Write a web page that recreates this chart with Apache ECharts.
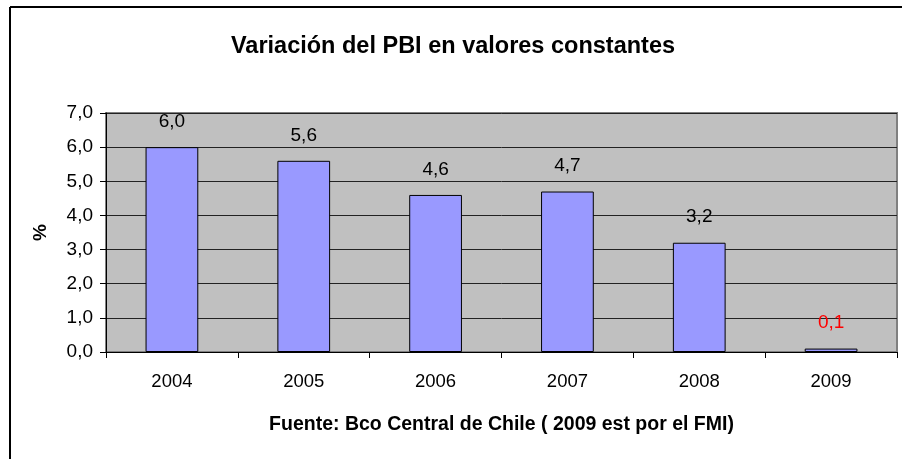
<!DOCTYPE html>
<html>
<head>
<meta charset="utf-8">
<title>Variación del PBI</title>
<script src="https://cdn.jsdelivr.net/npm/echarts@6/dist/echarts.min.js"></script>
<style>
  html, body { margin: 0; padding: 0; background: #fff; }
  #chart { width: 906px; height: 459px; }
</style>
</head>
<body>
<div id="chart"></div>
<script type="text/javascript">
var years = ['2004', '2005', '2006', '2007', '2008', '2009'];
var pbi = [6.0, 5.6, 4.6, 4.7, 3.2, 0.1];
var labelColors = ['#000', '#000', '#000', '#000', '#000', '#FF0000'];

var font = 'Liberation Sans, Arial, sans-serif';
function coma(v) { return v.toFixed(1).replace('.', ','); }

var chart = echarts.init(document.getElementById('chart'));
var option = {
    backgroundColor: '#fff',
    animation: false,
    title: {
        text: 'Variación del PBI en valores constantes',
        left: 'center',
        top: 30,
        textStyle: { fontFamily: font, fontSize: 23.5, fontWeight: 'bold', color: '#000' }
    },
    graphic: [
        { type: 'line', shape: { x1: 10, y1: 7, x2: 902, y2: 7 }, style: { stroke: '#000', lineWidth: 2 } },
        { type: 'line', shape: { x1: 10, y1: 7, x2: 10, y2: 459 }, style: { stroke: '#000', lineWidth: 2 } }
    ],
    grid: {
        left: 106, top: 113, right: 9, bottom: 107,
        show: true, backgroundColor: '#C0C0C0', borderColor: '#808080', borderWidth: 2
    },
    xAxis: {
        type: 'category',
        data: years,
        name: 'Fuente: Bco Central de Chile ( 2009 est por el FMI)',
        nameLocation: 'middle',
        nameGap: 63,
        nameTextStyle: { fontFamily: font, fontSize: 19.5, fontWeight: 'bold', color: '#000' },
        axisLine: { lineStyle: { color: '#000', width: 1 } },
        axisTick: { show: true, length: 6, lineStyle: { color: '#000' } },
        axisLabel: { fontFamily: font, fontSize: 18.5, color: '#000', margin: 20 }
    },
    yAxis: {
        type: 'value',
        min: 0, max: 7, interval: 1,
        name: '%',
        nameLocation: 'middle',
        nameGap: 56,
        nameTextStyle: { fontFamily: font, fontSize: 19, fontWeight: 'bold', color: '#000' },
        axisLine: { show: true, lineStyle: { color: '#000', width: 1 } },
        axisTick: { show: true, length: 6, lineStyle: { color: '#000' } },
        axisLabel: { fontFamily: font, fontSize: 19, color: '#000', margin: 13, formatter: function (v) { return coma(v); } },
        splitLine: { show: true, lineStyle: { color: '#222', width: 1 } }
    },
    series: [{
        type: 'bar',
        barWidth: '40%',
        data: pbi.map(function (v, i) {
            return { value: v, label: { color: labelColors[i] } };
        }),
        itemStyle: { color: '#9999FF', borderColor: '#000', borderWidth: 1 },
        label: {
            show: true, position: 'top', distance: 16,
            fontFamily: font, fontSize: 19,
            formatter: function (p) { return coma(p.value); }
        }
    }]
};
chart.setOption(option);
</script>
</body>
</html>
